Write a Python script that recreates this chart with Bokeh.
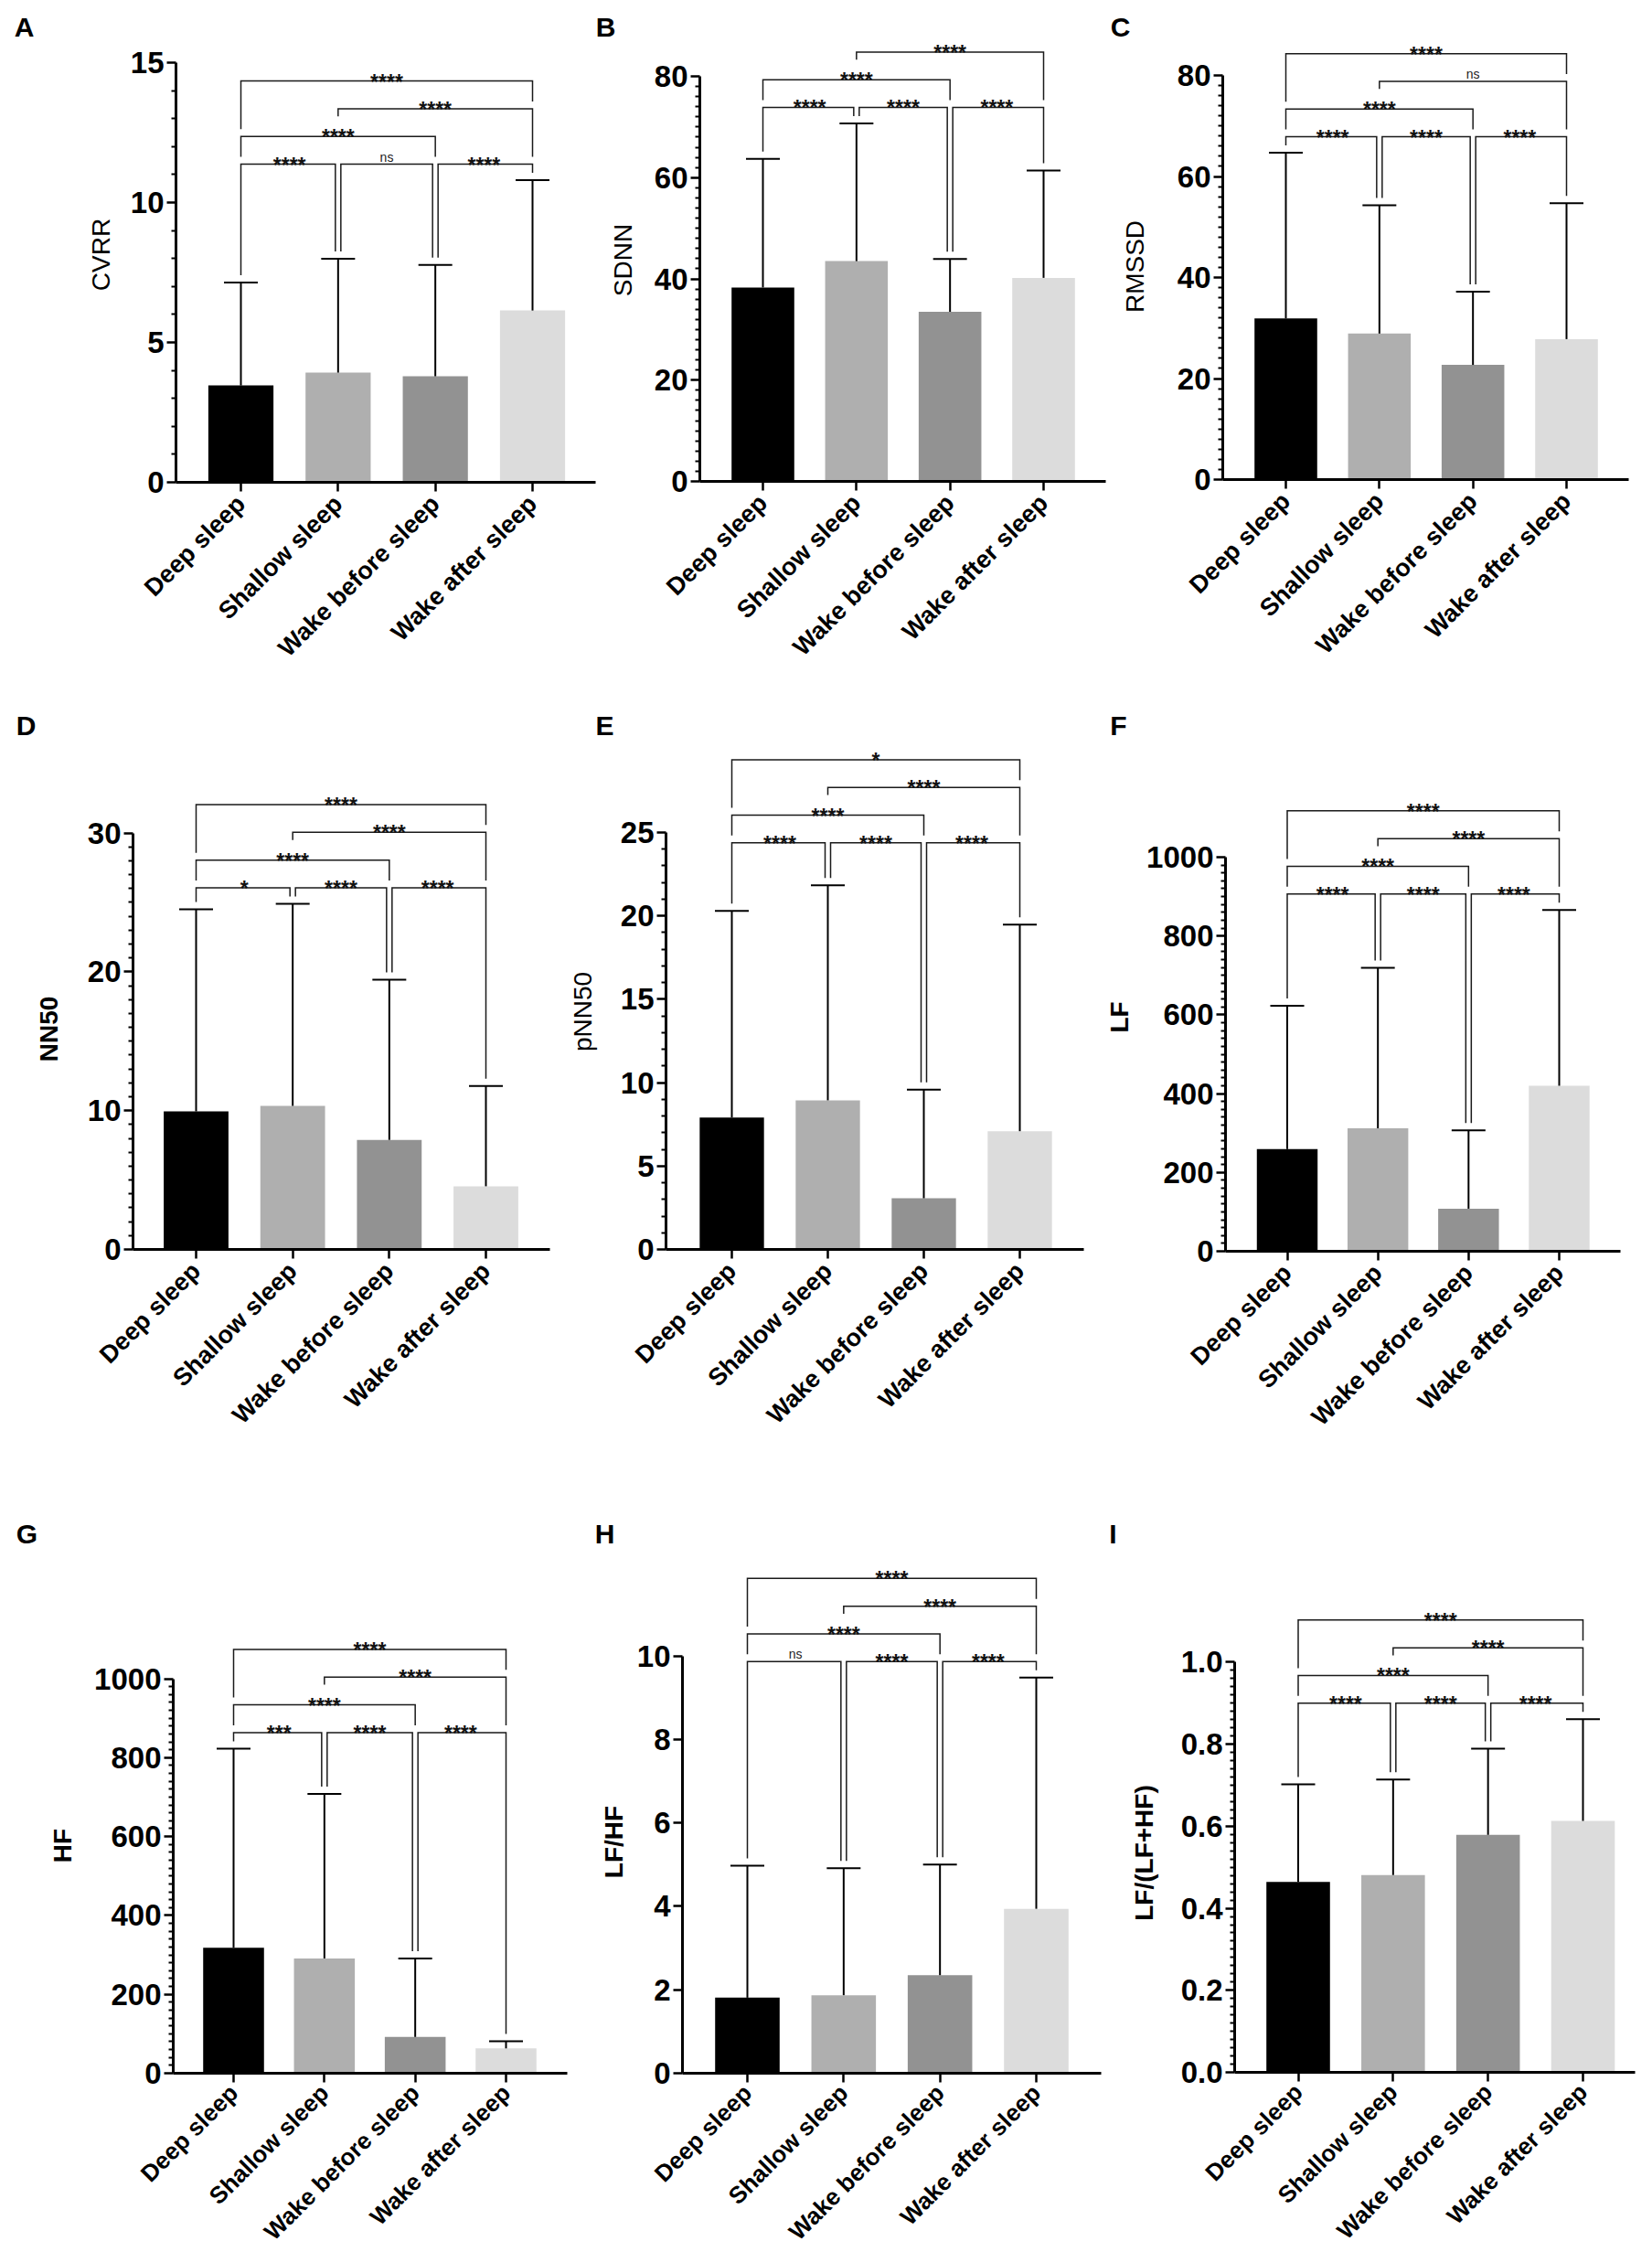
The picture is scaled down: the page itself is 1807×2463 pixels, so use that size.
import math
from bokeh.plotting import figure
from bokeh.models import Range1d, FixedTicker, Label, PrintfTickFormatter
from bokeh.layouts import row, column
from bokeh.embed import file_html
from bokeh.resources import INLINE

# ---------------- data ----------------
categories = ["Deep sleep", "Shallow sleep", "Wake before sleep", "Wake after sleep"]
bar_colors = ["#000000", "#afafaf", "#929292", "#dcdcdc"]

# comparisons, in drawing order
pairs = [(0, 1), (1, 2), (2, 3), (0, 2), (1, 3), (0, 3)]

cvrr_mean = [3.46, 3.92, 3.79, 6.14]
cvrr_sd = [3.68, 4.07, 3.98, 4.66]
cvrr_sig = ["****", "ns", "****", "****", "****", "****"]

sdnn_mean = [38.3, 43.5, 33.5, 40.2]
sdnn_sd = [25.4, 27.2, 10.45, 21.2]
sdnn_sig = ["****", "****", "****", "****", "****", None]

rmssd_mean = [31.9, 28.9, 22.7, 27.8]
rmssd_sd = [32.8, 25.4, 14.5, 26.9]
rmssd_sig = ["****", "****", "****", "****", "ns", "****"]

nn50_mean = [9.95, 10.34, 7.89, 4.55]
nn50_sd = [14.55, 14.56, 11.54, 7.23]
nn50_sig = ["*", "****", "****", "****", "****", "****"]

pnn50_mean = [7.91, 8.94, 3.07, 7.09]
pnn50_sd = [12.39, 12.89, 6.51, 12.39]
pnn50_sig = ["****", "****", "****", "****", "****", "*"]

lf_mean = [259, 312, 108, 420]
lf_sd = [364, 407, 199, 446]
lf_sig = ["****", "****", "****", "****", "****", "****"]

hf_mean = [318, 291, 92, 63]
hf_sd = [505, 417, 199, 18]
hf_sig = ["***", "****", "****", "****", "****", "****"]

lfhf_mean = [1.81, 1.87, 2.35, 3.94]
lfhf_sd = [3.16, 3.04, 2.65, 5.54]
lfhf_sig = ["ns", "****", "****", "****", "****", "****"]

ratio_mean = [0.464, 0.481, 0.579, 0.613]
ratio_sd = [0.238, 0.233, 0.210, 0.248]
ratio_sig = ["****", "****", "****", "****", "****", "****"]

FONT = "Liberation Sans"
LEVEL_STEP = 30.3


def make_panel(letter, ylabel, ylabel_bold, mean, sd, sig, ymax, step, minor, fmt,
               fig_x0, fig_x1, row_y0, row_y1, ax_l, ax_r, zero_px, top_px,
               c0_px, c3_px, title_xy, letter_xy, base_off, cat_size="27px", cat_dy=19):
    sp = (c3_px - c0_px) / 3.0
    ppu = (zero_px - top_px) / ymax

    def X(px):
        return (px - c0_px) / sp

    def Y(py):
        return (zero_px - py) / ppu

    def PY(v):
        return zero_px - v * ppu

    # the frame covers the whole figure; axes are pinned with fixed_location
    p = figure(width=fig_x1 - fig_x0, height=row_y1 - row_y0,
               x_range=Range1d(X(fig_x0), X(fig_x1)),
               y_range=Range1d(Y(row_y1), Y(row_y0)),
               min_border=0, min_border_left=0, min_border_right=0,
               min_border_top=0, min_border_bottom=0,
               output_backend="svg", toolbar_location=None, title=None)
    p.outline_line_color = None
    p.grid.visible = False
    p.background_fill_color = "white"
    p.border_fill_color = "white"

    # y axis
    n_major = int(round(ymax / step))
    majors = [round(k * step, 6) for k in range(n_major + 1)]
    minors = []
    if minor:
        n_minor = int(round(ymax / minor))
        for k in range(n_minor + 1):
            v = round(k * minor, 6)
            if all(abs(v - m) > 1e-9 for m in majors):
                minors.append(v)
    ya = p.yaxis[0]
    ya.fixed_location = X(ax_l)
    ya.ticker = FixedTicker(ticks=majors, minor_ticks=minors)
    ya.bounds = (0, ymax)
    ya.formatter = PrintfTickFormatter(format=fmt)
    ya.axis_line_width = 3
    ya.axis_line_color = "black"
    ya.major_tick_line_width = 2.5
    ya.minor_tick_line_width = 2
    ya.major_tick_out = 10
    ya.major_tick_in = 0
    ya.minor_tick_out = 5
    ya.minor_tick_in = 0
    ya.major_label_text_font = FONT
    ya.major_label_text_font_size = "33px"
    ya.major_label_text_font_style = "bold"
    ya.major_label_text_color = "black"
    ya.major_label_standoff = 3

    # x axis
    xa = p.xaxis[0]
    xa.fixed_location = 0
    xa.bounds = (X(ax_l), X(ax_r))
    xa.ticker = FixedTicker(ticks=[0, 1, 2, 3], minor_ticks=[])
    xa.axis_line_width = 3
    xa.axis_line_color = "black"
    xa.major_tick_line_width = 2.5
    xa.major_tick_out = 10
    xa.major_tick_in = 0
    xa.minor_tick_out = 0
    xa.minor_tick_in = 0
    xa.major_label_overrides = {0: "", 1: "", 2: "", 3: ""}

    xs = list(range(len(categories)))
    tops = [m + s for m, s in zip(mean, sd)]

    # bars
    p.vbar(x=xs, top=mean, bottom=0, width=0.67, fill_color=bar_colors, line_color=None)

    # error bars (mean + SD)
    cw = 18.5 / sp
    p.segment(x0=xs, y0=mean, x1=xs, y1=tops, line_color="black", line_width=2)
    p.segment(x0=[x - cw for x in xs], y0=tops, x1=[x + cw for x in xs], y1=tops,
              line_color="black", line_width=2)

    # significance brackets
    caps_px = [PY(t) for t in tops]
    l0 = min(caps_px) - base_off
    items = []
    for (i, j), lab in zip(pairs, sig):
        if lab is None:
            continue
        d = j - i
        lev = 0 if d == 1 else (1 + i if d == 2 else 3)
        items.append({"i": i, "j": j, "lab": lab, "lev": lev, "h": l0 - lev * LEVEL_STEP})
    lx, ly = [], []
    for b in items:
        legs = []
        for k, side in ((b["i"], 1), (b["j"], -1)):
            off = 0
            for c in items:
                if c is b or c["lev"] != b["lev"]:
                    continue
                if side == 1 and c["j"] == k:
                    off = 3
                if side == -1 and c["i"] == k:
                    off = -3
            obs = [caps_px[k]]
            for c in items:
                if c["lev"] >= b["lev"]:
                    continue
                if c["i"] <= k <= c["j"]:
                    if k in (c["i"], c["j"]) or abs((c["i"] + c["j"]) / 2.0 - k) >= 0.3:
                        obs.append(c["h"])
                    else:
                        obs.append(c["h"] - 14)
            bottom = min(obs) - 8
            legs.append((c0_px + k * sp + off, bottom))
        (xa_px, ba), (xb_px, bb) = legs
        h = b["h"]
        lx.append([X(xa_px), X(xa_px), X(xb_px), X(xb_px)])
        ly.append([Y(ba), Y(h), Y(h), Y(bb)])
        mid_px = c0_px + (b["i"] + b["j"]) / 2.0 * sp
        if b["lab"] == "ns":
            p.add_layout(Label(x=X(mid_px), y=Y(h - 8), text="ns", text_align="center",
                               text_baseline="alphabetic", text_font=FONT,
                               text_font_size="14px", text_color="#222222"))
        else:
            p.add_layout(Label(x=X(mid_px), y=Y(h + 1), text=b["lab"], text_align="center",
                               text_baseline="alphabetic", text_font=FONT,
                               text_font_size="23px", text_font_style="bold",
                               text_color="#111111"))
    p.multi_line(xs=lx, ys=ly, line_color="#1a1a1a", line_width=1.5, line_join="miter")

    # category labels (rotated 45 degrees)
    for k, cat in enumerate(categories):
        p.add_layout(Label(x=X(c0_px + k * sp), y=Y(zero_px + cat_dy), text=cat,
                           angle=math.pi / 4, text_align="right", text_baseline="middle",
                           text_font=FONT, text_font_size=cat_size, text_font_style="bold",
                           text_color="black"))

    # y-axis title
    p.add_layout(Label(x=X(title_xy[0]), y=Y(title_xy[1]), text=ylabel, angle=math.pi / 2,
                       text_align="center", text_baseline="middle", text_font=FONT,
                       text_font_size="28px",
                       text_font_style="bold" if ylabel_bold else "normal",
                       text_color="black"))
    # panel letter
    p.add_layout(Label(x=X(letter_xy[0]), y=Y(letter_xy[1]), text=letter,
                       text_align="center", text_baseline="middle", text_font=FONT,
                       text_font_size="30px", text_font_style="bold", text_color="black"))
    return p


# page coordinates (the page itself has no margin: the layout starts at 0,0)
pA = make_panel("A", "CVRR", False, cvrr_mean, cvrr_sd, cvrr_sig, 15, 5, 1, "%d",
                0, 652, 0, 760, 192, 651, 527, 68, 263, 582, (110, 278), (26, 29), 17.5)
pB = make_panel("B", "SDNN", False, sdnn_mean, sdnn_sd, sdnn_sig, 80, 20, 2, "%d",
                652, 1212, 0, 760, 765, 1209, 526, 83, 834, 1141, (681, 284), (662, 29), 17.5)
pC = make_panel("C", "RMSSD", False, rmssd_mean, rmssd_sd, rmssd_sig, 80, 20, 2, "%d",
                1212, 1807, 0, 760, 1337, 1781, 524, 82, 1406, 1713, (1241, 291), (1225, 29), 17.5)

pD = make_panel("D", "NN50", True, nn50_mean, nn50_sd, nn50_sig, 30, 10, 1, "%d",
                0, 610, 760, 1610, 145, 601, 1366, 910.5, 214, 531, (53, 1125), (28, 793), 17.5)
pE = make_panel("E", "pNN50", False, pnn50_mean, pnn50_sd, pnn50_sig, 25, 5, 1, "%d",
                610, 1192, 760, 1610, 728, 1185, 1366, 910, 800, 1115, (636.5, 1106), (661, 793), 46.5)
pF = make_panel("F", "LF", True, lf_mean, lf_sd, lf_sig, 1000, 200, 20, "%d",
                1192, 1807, 760, 1610, 1340, 1772, 1368, 937, 1407.5, 1705, (1224, 1112), (1223, 793), 17.5)

pG = make_panel("G", "HF", True, hf_mean, hf_sd, hf_sig, 1000, 200, 20, "%d",
                0, 636, 1610, 2463, 189, 620, 2267, 1835.5, 255, 553, (67.5, 2018), (29, 1677), 17.5,
                cat_size="26px", cat_dy=17)
pH = make_panel("H", "LF/HF", True, lfhf_mean, lfhf_sd, lfhf_sig, 10, 2, None, "%d",
                636, 1207, 1610, 2463, 746, 1204, 2267, 1810.5, 817, 1133, (670.5, 2014), (661, 1677), 17.5,
                cat_size="26px", cat_dy=17)
pI = make_panel("I", "LF/(LF+HF)", True, ratio_mean, ratio_sd, ratio_sig, 1.0, 0.2, 0.02, "%.1f",
                1207, 1807, 1610, 2463, 1350, 1788, 2266, 1817.4, 1419.5, 1731, (1251, 2026), (1217, 1677), 17.5,
                cat_size="26px", cat_dy=17)

layout = column(row(pA, pB, pC, spacing=0),
                row(pD, pE, pF, spacing=0),
                row(pG, pH, pI, spacing=0), spacing=0)

open("out.html", "w").write(file_html(layout, INLINE))
